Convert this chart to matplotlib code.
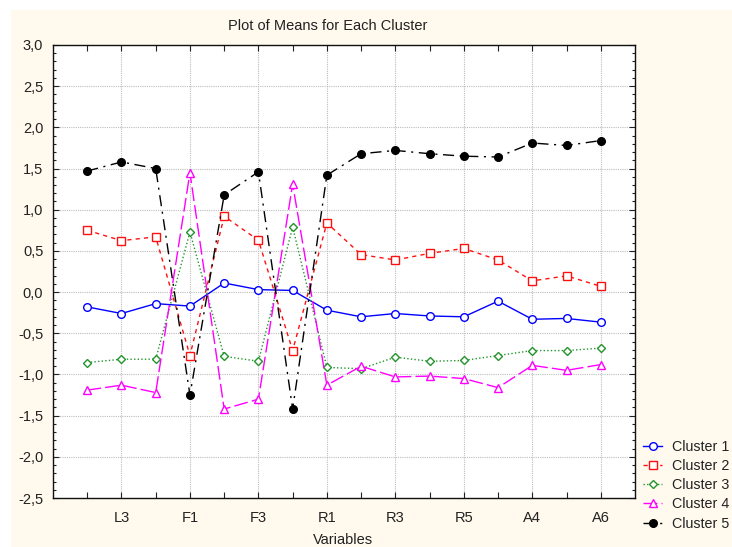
import matplotlib
matplotlib.use("Agg")
import matplotlib.pyplot as plt
from matplotlib.patches import Rectangle
from matplotlib.ticker import FuncFormatter, MultipleLocator, FixedLocator

plt.rcParams['font.family'] = ['Liberation Sans', 'DejaVu Sans']

# ---- data ----
variables = ["L2", "L3", "L4", "F1", "F2", "F3", "F4", "R1",
             "R2", "R3", "R4", "R5", "A3", "A4", "A5", "A6"]
tick_labels = ["", "L3", "", "F1", "", "F3", "", "R1",
               "", "R3", "", "R5", "", "A4", "", "A6"]

cluster1 = [-0.18, -0.26, -0.14, -0.17, 0.11, 0.03, 0.02, -0.22,
            -0.30, -0.26, -0.29, -0.30, -0.11, -0.33, -0.32, -0.365]
cluster2 = [0.75, 0.625, 0.67, -0.77, 0.92, 0.63, -0.71, 0.84,
            0.455, 0.39, 0.47, 0.53, 0.39, 0.136, 0.197, 0.07]
cluster3 = [-0.855, -0.815, -0.815, 0.73, -0.78, -0.84, 0.79, -0.915,
            -0.93, -0.79, -0.84, -0.83, -0.77, -0.71, -0.71, -0.68]
cluster4 = [-1.19, -1.13, -1.22, 1.45, -1.42, -1.30, 1.31, -1.13,
            -0.90, -1.03, -1.02, -1.05, -1.16, -0.89, -0.95, -0.88]
cluster5 = [1.47, 1.58, 1.50, -1.25, 1.18, 1.46, -1.42, 1.42,
            1.68, 1.72, 1.68, 1.65, 1.64, 1.81, 1.78, 1.84]

series_names = ["Cluster 1", "Cluster 2", "Cluster 3", "Cluster 4", "Cluster 5"]
series = [cluster1, cluster2, cluster3, cluster4, cluster5]

# ---- styles ----
styles = [
    dict(color="#0000FF", ls="-", marker="o", mfc="white", ms=5.5),
    dict(color="#FF1010", ls=(0, (3, 3)), marker="s", mfc="white", ms=5.5),
    dict(color="#22952A", ls=(0, (1, 1.6)), marker="D", mfc="white", ms=4),
    dict(color="#FF00FF", ls=(0, (10, 3)), marker="^", mfc="white", ms=6),
    dict(color="#000000", ls=(0, (8, 4, 1.5, 4)), marker="o", mfc="black", ms=5.5),
]

W, H = 732, 547
fig = plt.figure(figsize=(W / 100, H / 100), dpi=100)
fig.patch.set_facecolor("white")
fig.patches.append(Rectangle((11 / W, 0), 1 - 11 / W, 1 - 10 / H,
                             transform=fig.transFigure, facecolor="#FFF9EE",
                             edgecolor="none", zorder=-10))

ax = fig.add_axes([53 / W, 1 - 498 / H, (635 - 53) / W, (498 - 45) / H])
ax.set_facecolor("white")

x = list(range(1, len(variables) + 1))
for name, vals, st in zip(series_names, series, styles):
    ax.plot(x, vals, color=st["color"], linestyle=st["ls"], lw=1.0,
            marker=st["marker"], markerfacecolor=st["mfc"],
            markeredgecolor=st["color"], markersize=st["ms"],
            markeredgewidth=1.0, label=name)

ax.set_xlim(0, len(variables) + 1)
ax.set_ylim(-2.5, 3.0)

ax.xaxis.set_major_locator(FixedLocator(x))
ax.set_xticklabels(tick_labels)
ax.yaxis.set_major_locator(MultipleLocator(0.5))
ax.yaxis.set_minor_locator(MultipleLocator(0.1))


def fmt(v, pos):
    s = f"{v:.1f}"
    if s == "-0.0":
        s = "0.0"
    return s.replace(".", ",")


ax.yaxis.set_major_formatter(FuncFormatter(fmt))

ax.tick_params(axis="both", which="both", direction="in", top=True, right=True,
               colors="#222222", labelcolor="#222222")
ax.tick_params(axis="both", which="major", length=4, width=0.8, labelsize=10.5)
ax.tick_params(axis="y", which="major", pad=7)
ax.tick_params(axis="x", which="major", pad=9)
ax.tick_params(axis="y", which="minor", length=2.5, width=0.8)

# grid: horizontal at major y, vertical at labelled x only
for yv in [-2.0, -1.5, -1.0, -0.5, 0.0, 0.5, 1.0, 1.5, 2.0, 2.5]:
    ax.axhline(yv, color="#BDBDBD", lw=0.8, ls=(0, (1, 1)), zorder=0)
for xi, lab in zip(x, tick_labels):
    if lab:
        ax.axvline(xi, color="#BDBDBD", lw=0.8, ls=(0, (1, 1)), zorder=0)

for s in ax.spines.values():
    s.set_color("#111111")
    s.set_linewidth(1.0)

fig.text(328 / W, 1 - 26 / H, "Plot of Means for Each Cluster", ha="center",
         va="center", fontsize=10.5, color="#222222")
fig.text(343 / W, 1 - 540 / H, "Variables", ha="center", va="center",
         fontsize=10.5, color="#222222")

fig.legend(loc="upper left", bbox_to_anchor=(643 / W, 1 - 440 / H),
           frameon=False, fontsize=10.3, handlelength=1.35,
           handletextpad=0.7, labelspacing=0.36, borderaxespad=0,
           borderpad=0, labelcolor="#222222")

fig.savefig("out.png", dpi=100, facecolor=fig.get_facecolor())
